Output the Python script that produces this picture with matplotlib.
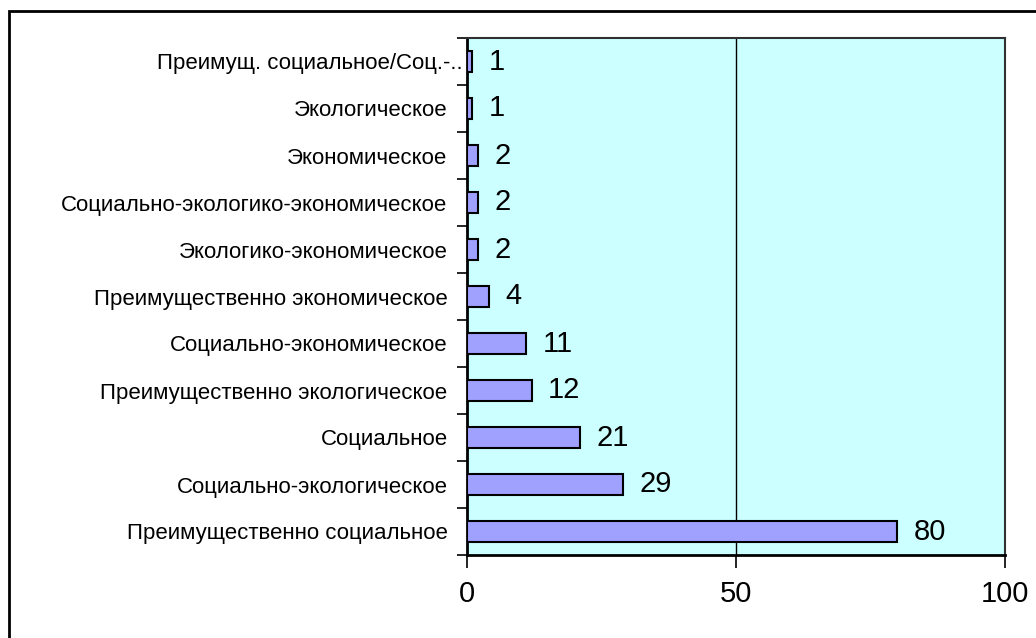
"""
Horizontal bar chart: distribution of project types.
"""

import numpy as np
import matplotlib.pyplot as plt
import matplotlib.transforms as mtransforms
from matplotlib.patches import Rectangle

plt.rcParams['font.family'] = ['Liberation Sans', 'DejaVu Sans']
plt.rcParams['font.stretch'] = 'normal'

# categories listed bottom to top
categories = [
    "Преимущественно социальное",
    "Социально-экологическое",
    "Социальное",
    "Преимущественно экологическое",
    "Социально-экономическое",
    "Преимущественно экономическое",
    "Экологико-экономическое",
    "Социально-экологико-экономическое",
    "Экономическое",
    "Экологическое",
    "Преимущ. социальное/Соц.-..",
]
counts = [80, 29, 21, 12, 11, 4, 2, 2, 2, 1, 1]
x_ticks = [0, 50, 100]

bar_color = "#A0A0FF"
plot_bg = "#CCFFFF"

fig = plt.figure(figsize=(10.36, 6.38), dpi=100)
ax = fig.add_axes([467 / 1036, 1 - 555 / 638, (1005 - 467) / 1036, (555 - 38) / 638])
ax.set_facecolor(plot_bg)

# outer chart frame (only top/left edges fall inside the image)
fig.patches.append(Rectangle((9 / 1036, -0.05), 1.1, 1 - 11 / 638 + 0.05,
                             transform=fig.transFigure, fill=False,
                             edgecolor="black", linewidth=2, zorder=0))

y = np.arange(len(categories))
bars = ax.barh(y, counts, height=0.43, color=bar_color, edgecolor="black",
               linewidth=1.5, zorder=3)

for yi, v in zip(y, counts):
    ax.annotate(str(v), (v, yi), xytext=(12, 0), textcoords="offset points",
                ha="left", va="center", fontsize=21, zorder=4)

ax.set_xlim(0, 100)
ax.set_ylim(-0.5, len(categories) - 0.5)
ax.set_xticks(x_ticks)
ax.set_xticklabels([str(t) for t in x_ticks], fontsize=21)
ax.tick_params(axis="x", length=9, width=1.2, pad=9, direction="out")

# gridline at 50 only
ax.axvline(50, color="black", linewidth=1, zorder=1)

# category labels at centres, tick marks between categories
ax.set_yticks(y)
ax.set_yticklabels(categories, fontsize=16, fontstretch="normal")
ax.tick_params(axis="y", which="major", length=0, pad=14)
ax.set_yticks(np.arange(-0.5, len(categories)), minor=True)
ax.tick_params(axis="y", which="minor", length=7, width=1.2, direction="out")

# long truncated label sits closer to the axis
lbl = ax.get_yticklabels()[-1]
lbl.set_transform(lbl.get_transform() + mtransforms.ScaledTranslation(0.15, 0, fig.dpi_scale_trans))

ax.spines["left"].set_linewidth(2)
ax.spines["bottom"].set_linewidth(2)
for s in ("top", "right"):
    ax.spines[s].set_color("#303030")
    ax.spines[s].set_linewidth(1.5)

fig.savefig("out.png", dpi=100)
